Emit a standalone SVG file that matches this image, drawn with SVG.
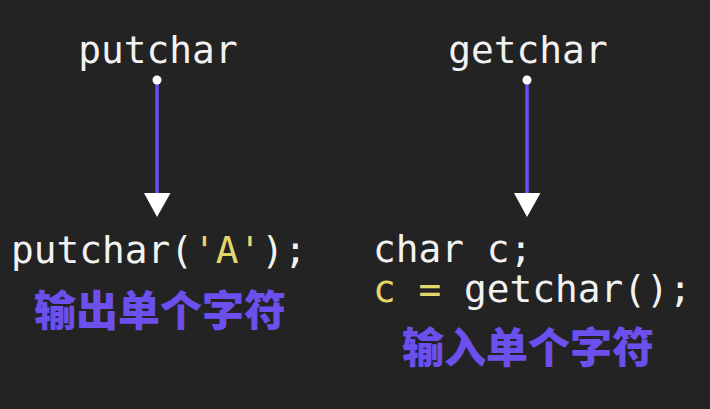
<svg xmlns="http://www.w3.org/2000/svg" width="710" height="409" viewBox="0 0 710 409">
<style>
.code{font-family:"DejaVu Sans Mono","Liberation Mono",monospace;font-size:37.8px;fill:#f2f2f2}
.y{fill:#e3d66b}
.cn{font-family:"Noto Sans CJK SC","Noto Sans CJK JP",sans-serif;font-weight:900;font-size:42px;fill:#6c50ee}
.ln{stroke:#6a4ff0;stroke-width:3.5}
.dot{fill:#ffffff}
.tri{fill:#ffffff}
</style>
<rect width="710" height="409" fill="#232323"/>
<g id="putchar-label"><text class="code" x="158" y="63" text-anchor="middle">putchar</text></g>
<g id="getchar-label"><text class="code" x="528" y="63" text-anchor="middle">getchar</text></g>
<g id="connectors">
<line class="ln" x1="157" y1="80" x2="157" y2="195"/>
<circle class="dot" cx="157" cy="80" r="4.5"/>
<polygon class="tri" points="144,193 170.5,193 157,217"/>
<line class="ln" x1="527" y1="80" x2="527" y2="195"/>
<circle class="dot" cx="527" cy="80" r="4.5"/>
<polygon class="tri" points="514,193 540.5,193 527,217"/>
</g>
<g id="putchar-code"><text class="code" x="11" y="263">putchar(<tspan class="y">'A'</tspan>);</text>
<text class="cn" x="34" y="326">输出单个字符</text></g>
<g id="getchar-code"><text class="code" x="373" y="262">char c;</text>
<text class="code" x="373" y="302"><tspan class="y">c =</tspan> getchar();</text>
<text class="cn" x="402" y="363">输入单个字符</text></g>
</svg>
